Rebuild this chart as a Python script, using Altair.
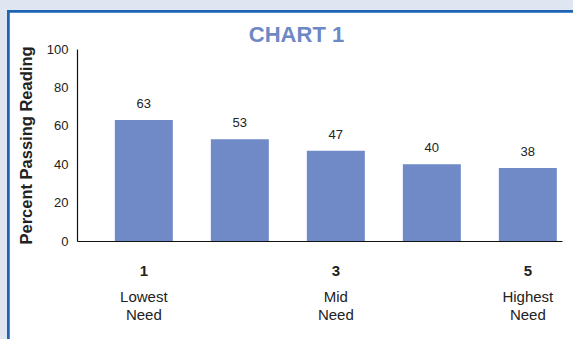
import altair as alt
import pandas as pd

groups = ["1", "2", "3", "4", "5"]
values = [63, 53, 47, 40, 38]
shown_ticks = ["1", "3", "5"]
descriptions = ["Lowest Need", "", "Mid Need", "", "Highest Need"]
y_ticks = [0, 20, 40, 60, 80, 100]

df = pd.DataFrame({"group": groups, "value": values, "desc": descriptions})

BAR = "#6f8ac6"
TEXT = "#222222"
FONT = "Liberation Sans"

# Build label expressions from the lists
num_expr = " || ".join(f"datum.label == '{t}'" for t in shown_ticks)
num_label_expr = f"({num_expr}) ? datum.label : ''"
desc_expr = "''"
for g, d in zip(reversed(groups), reversed(descriptions)):
    desc_expr = f"datum.label == '{g}' ? split('{d}', ' ') : ({desc_expr})"

x_scale = alt.Scale(paddingInner=0.396, paddingOuter=0.224, align=0.88)
y_scale = alt.Scale(domain=[0, 100], nice=False)
y_axis = alt.Axis(values=y_ticks, title="Percent Passing Reading",
                  titleFont=FONT, titleFontSize=16.5,
                  titleFontWeight="bold", titleColor=TEXT,
                  titlePadding=12, labelFont=FONT, labelFontSize=13,
                  labelColor=TEXT, labelPadding=9, ticks=False,
                  labelOverlap=False, labelBound=False, labelFlush=False,
                  grid=False, domainColor="#111111", domainWidth=1.2,
                  zindex=2)

panel = alt.Chart(df).mark_rect(
    fill="white", stroke="#1e64b4", strokeWidth=2.5
).encode(
    x=alt.value(-68.5), x2=alt.value(700),
    y=alt.value(-37.5), y2=alt.value(500),
)

bars = alt.Chart(df).mark_bar(color=BAR).encode(
    x=alt.X("group:O", scale=x_scale, sort=groups,
            axis=alt.Axis(orient="bottom", title=None, labelAngle=0,
                          labelExpr=num_label_expr, labelFont=FONT,
                          labelFontSize=15, labelFontWeight="bold",
                          labelColor=TEXT, labelPadding=22, ticks=False,
                          domainColor="#111111", domainWidth=1.2, zindex=2)),
    y=alt.Y("value:Q", scale=y_scale, axis=y_axis),
)

labels = alt.Chart(df).mark_text(
    baseline="bottom", dy=-9, font=FONT, fontSize=13, color=TEXT
).encode(
    x=alt.X("group:O", sort=groups,
            axis=alt.Axis(orient="bottom", title=None, labelAngle=0,
                          labelExpr=desc_expr, labelFont=FONT,
                          labelFontSize=15, labelColor=TEXT,
                          labelLineHeight=18, labelPadding=48, ticks=False,
                          domain=False, zindex=2)),
    y=alt.Y("value:Q", scale=y_scale, axis=y_axis),
    text=alt.Text("value:Q"),
)

chart = alt.layer(panel, bars, labels).resolve_axis(x="independent").properties(
    width=485,
    height=192,
    autosize=alt.AutoSizeParams(type="none"),
    padding={"left": 77, "top": 49, "right": 11, "bottom": 98},
    background="#dfe6f1",
    title=alt.TitleParams(
        "CHART 1", font=FONT, fontSize=22, fontWeight="bold", color="#6d88c5",
        anchor="middle", dx=-23, offset=-37, zindex=2,
    ),
).configure_view(stroke=None)

chart.save("out.html", embed_options={"renderer": "svg", "actions": False})
